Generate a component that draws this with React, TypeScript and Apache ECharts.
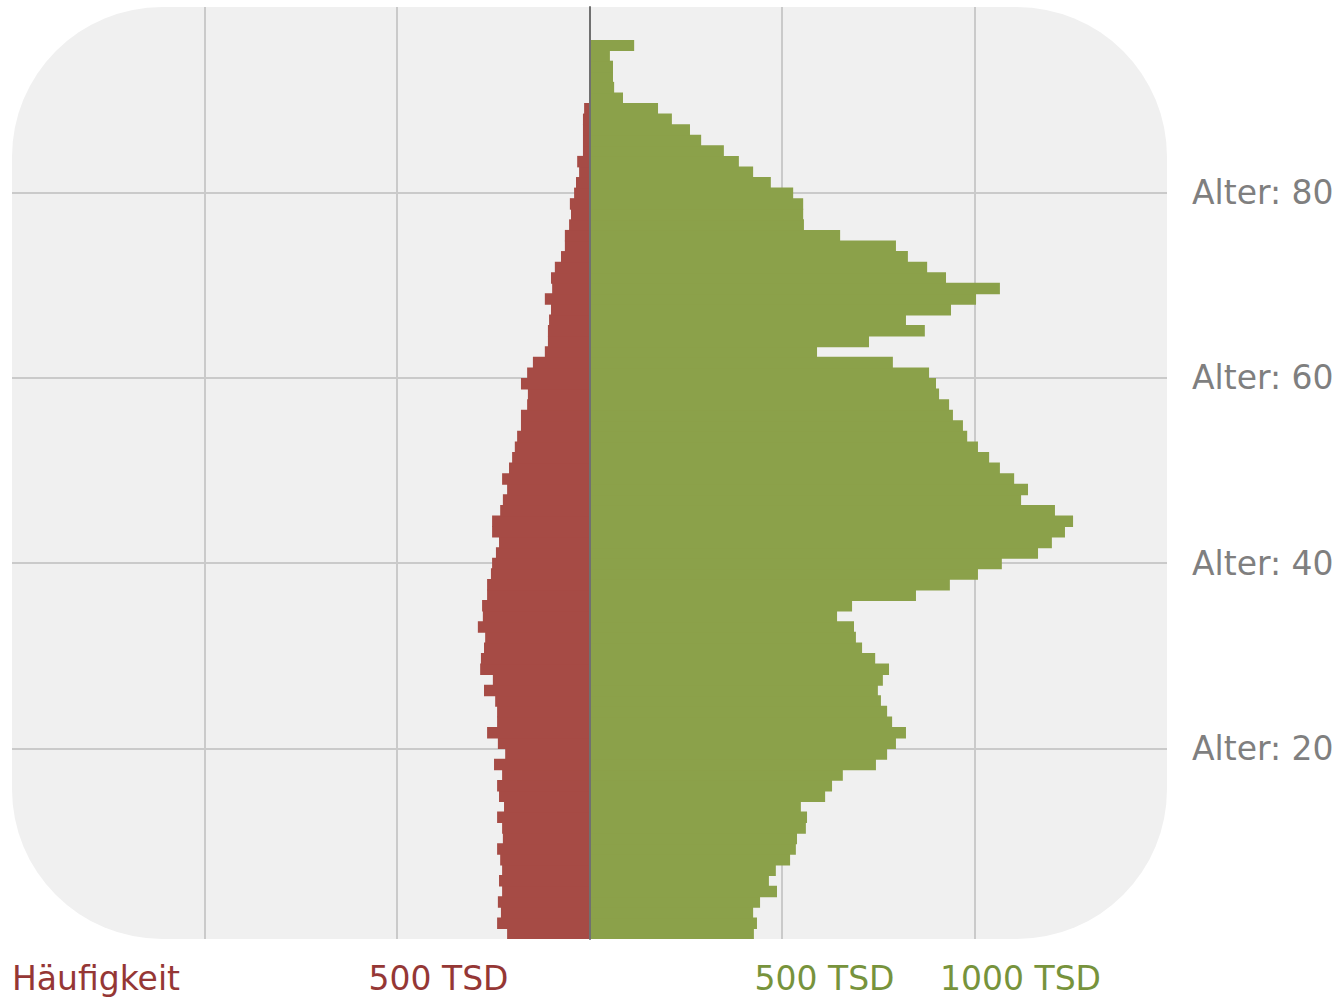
import React, { useEffect, useRef } from "react";
import * as echarts from "echarts";

// 85 bars, bottom to top
const binLabels = [
  "0","1","2","3","4","5","6","7","8","9","10","11","12","13","14","15","16","17","18","19",
  "20","21","22","23","24","25","26","27","28","29","30","31","32","33","34","35","36","37","38","39",
  "40","41","42","43","44","45","46","47","48","49","50","51","52","53","54","55","56","57","58","59",
  "60","61","62","63","64","65","66","67","68","69","70","71","72","73","74","75","76","77","78","79",
  "80","81","82","83","84"
];

// left side (red), in TSD
const redValues = [
  214, 240, 230, 238, 227, 235, 227, 232, 240, 225,
  227, 240, 222, 235, 240, 227, 248, 219, 238, 266,
  240, 240, 245, 274, 251, 284, 282, 274, 271, 290,
  277, 279, 266, 266, 256, 253, 243, 235, 253, 253,
  232, 225, 214, 227, 209, 201, 194, 188, 178, 178,
  162, 160, 178, 162, 147, 116, 108, 108, 105, 100,
  116, 97, 100, 90, 74, 64, 64, 53, 48, 51,
  40, 35, 27, 32, 17, 17, 17, 17, 14
];

// right side (green), in TSD
const greenValues = [
  427, 435, 425, 443, 487, 466, 484, 521, 536, 539,
  562, 565, 549, 612, 630, 658, 744, 773, 796, 822,
  786, 773, 757, 749, 762, 778, 742, 708, 692, 687,
  643, 682, 848, 936, 1009, 1071, 1165, 1201, 1235, 1256,
  1209, 1121, 1139, 1103, 1066, 1038, 1009, 981, 970, 944,
  934, 908, 900, 882, 788, 591, 726, 871, 822, 939,
  1004, 1066, 926, 877, 827, 796, 651, 557, 555, 555,
  529, 471, 425, 388, 349, 290, 261, 214, 178, 87,
  64, 61, 61, 53, 116
];

const xTickValues = [-1500, -500, 500, 1000];
const xTickLabels = ["Häufigkeit", "500 TSD", "500 TSD", "1000 TSD"];
const xTickStyles = ["h", "r", "g", "g2"];

const ageTickPrefix = "Alter: ";

const FONT = "'DejaVu Sans', sans-serif";
const RED = "#A64B45";
const GREEN = "#8BA14A";
const RED_TEXT = "#953735";
const GREEN_TEXT = "#77933C";
const GRID_LINE = "#CACACA";

export default function App() {
  const ref = useRef<HTMLDivElement>(null);

  useEffect(() => {
    if (!ref.current) return;
    const chart = echarts.init(ref.current, undefined, { renderer: "svg" });
    const left = 12;
    const width = 1155;

    const option: any = {
      animation: false,
      backgroundColor: "#ffffff",
      graphic: [
        {
          type: "rect",
          z: -10,
          silent: true,
          shape: { x: left, y: 7, width: width, height: 932, r: 150 },
          style: { fill: "#F0F0F0" },
        },
      ],
      grid: [
        { left: left, width: width, top: 40, height: 899 },
        { left: left, width: width, top: 7, height: 932 },
        { left: left, width: width, top: 7, height: 927 },
      ],
      xAxis: [
        { type: "value", gridIndex: 0, min: -1500, max: 1500, show: false },
        {
          type: "value",
          gridIndex: 1,
          min: -1500,
          max: 1500,
          interval: 500,
          axisLine: { show: false },
          axisTick: { show: false },
          splitLine: {
            show: true,
            showMinLine: false,
            showMaxLine: false,
            lineStyle: { color: GRID_LINE, width: 2 },
          },
          axisLabel: {
            show: true,
            showMinLabel: true,
            showMaxLabel: true,
            margin: 23,
            align: "center",
            fontFamily: FONT,
            fontSize: 33,
            formatter: (v: number) => {
              const i = xTickValues.indexOf(v);
              if (i < 0) return "";
              return "{" + xTickStyles[i] + "|" + xTickLabels[i] + "}";
            },
            rich: {
              h: { color: RED_TEXT, fontFamily: FONT, fontSize: 33, padding: [0, 0, 0, 168] },
              r: { color: RED_TEXT, fontFamily: FONT, fontSize: 33, padding: [0, 0, 0, 83] },
              g: { color: GREEN_TEXT, fontFamily: FONT, fontSize: 33, padding: [0, 0, 0, 85] },
              g2: { color: GREEN_TEXT, fontFamily: FONT, fontSize: 33, padding: [0, 0, 0, 92] },
            },
          },
        },
        { type: "value", gridIndex: 2, min: -1500, max: 1500, show: false },
      ],
      yAxis: [
        {
          type: "category",
          gridIndex: 0,
          data: binLabels,
          show: false,
        },
        {
          type: "value",
          gridIndex: 1,
          min: 0,
          max: 1,
          z: 10,
          axisLine: { show: true, onZero: true, lineStyle: { color: "#707070", width: 2 } },
          axisTick: { show: false },
          axisLabel: { show: false },
          splitLine: { show: false },
        },
        {
          type: "value",
          gridIndex: 2,
          position: "right",
          min: 0,
          max: 100,
          interval: 20,
          axisLine: { show: false },
          axisTick: { show: false },
          splitLine: {
            show: true,
            showMinLine: false,
            showMaxLine: false,
            lineStyle: { color: GRID_LINE, width: 2 },
          },
          axisLabel: {
            showMinLabel: false,
            showMaxLabel: false,
            margin: 25,
            color: "#7F7F7F",
            fontFamily: FONT,
            fontSize: 33,
            formatter: (v: number) => ageTickPrefix + v,
          },
        },
      ],
      series: [
        {
          name: "links",
          type: "bar",
          xAxisIndex: 0,
          yAxisIndex: 0,
          barGap: "-100%",
          barWidth: 11.5,
          itemStyle: { color: RED },
          data: redValues.map((v) => -v),
        },
        {
          name: "rechts",
          type: "bar",
          xAxisIndex: 0,
          yAxisIndex: 0,
          barGap: "-100%",
          barWidth: 11.5,
          itemStyle: { color: GREEN },
          data: greenValues,
        },
      ],
    };

    chart.setOption(option);
    return () => chart.dispose();
  }, []);

  return (
    <div
      ref={ref}
      style={{ position: "fixed", left: 0, top: 0, width: 1340, height: 1001, background: "#fff" }}
    />
  );
}
